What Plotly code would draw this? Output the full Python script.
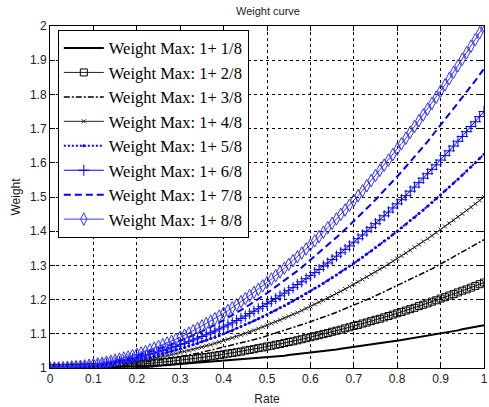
import plotly.graph_objects as go

RATE = [0.00, 0.01, 0.02, 0.03, 0.04, 0.05, 0.06, 0.07, 0.08, 0.09,
        0.10, 0.11, 0.12, 0.13, 0.14, 0.15, 0.16, 0.17, 0.18, 0.19,
        0.20, 0.21, 0.22, 0.23, 0.24, 0.25, 0.26, 0.27, 0.28, 0.29,
        0.30, 0.31, 0.32, 0.33, 0.34, 0.35, 0.36, 0.37, 0.38, 0.39,
        0.40, 0.41, 0.42, 0.43, 0.44, 0.45, 0.46, 0.47, 0.48, 0.49,
        0.50, 0.51, 0.52, 0.53, 0.54, 0.55, 0.56, 0.57, 0.58, 0.59,
        0.60, 0.61, 0.62, 0.63, 0.64, 0.65, 0.66, 0.67, 0.68, 0.69,
        0.70, 0.71, 0.72, 0.73, 0.74, 0.75, 0.76, 0.77, 0.78, 0.79,
        0.80, 0.81, 0.82, 0.83, 0.84, 0.85, 0.86, 0.87, 0.88, 0.89,
        0.90, 0.91, 0.92, 0.93, 0.94, 0.95, 0.96, 0.97, 0.98, 0.99,
        1.00]

W1 = [1.000, 1.000, 1.000, 1.000, 1.000, 1.000, 1.000, 1.001, 1.001, 1.001,
      1.001, 1.002, 1.002, 1.002, 1.002, 1.003, 1.003, 1.004, 1.004, 1.005,
      1.005, 1.006, 1.006, 1.007, 1.007, 1.008, 1.008, 1.009, 1.010, 1.011,
      1.011, 1.012, 1.013, 1.014, 1.014, 1.015, 1.016, 1.017, 1.018, 1.019,
      1.020, 1.021, 1.022, 1.023, 1.024, 1.025, 1.026, 1.028, 1.029, 1.030,
      1.031, 1.033, 1.034, 1.035, 1.036, 1.038, 1.039, 1.041, 1.042, 1.044,
      1.045, 1.047, 1.048, 1.050, 1.051, 1.053, 1.054, 1.056, 1.058, 1.060,
      1.061, 1.063, 1.065, 1.067, 1.068, 1.070, 1.072, 1.074, 1.076, 1.078,
      1.080, 1.082, 1.084, 1.086, 1.088, 1.090, 1.092, 1.095, 1.097, 1.099,
      1.101, 1.104, 1.106, 1.108, 1.110, 1.113, 1.115, 1.118, 1.120, 1.123,
      1.125]

W2 = [1.000, 1.000, 1.000, 1.000, 1.000, 1.001, 1.001, 1.001, 1.002, 1.002,
      1.003, 1.003, 1.004, 1.004, 1.005, 1.006, 1.006, 1.007, 1.008, 1.009,
      1.010, 1.011, 1.012, 1.013, 1.014, 1.016, 1.017, 1.018, 1.020, 1.021,
      1.023, 1.024, 1.026, 1.027, 1.029, 1.031, 1.032, 1.034, 1.036, 1.038,
      1.040, 1.042, 1.044, 1.046, 1.048, 1.051, 1.053, 1.055, 1.058, 1.060,
      1.063, 1.065, 1.068, 1.070, 1.073, 1.076, 1.078, 1.081, 1.084, 1.087,
      1.090, 1.093, 1.096, 1.099, 1.102, 1.106, 1.109, 1.112, 1.116, 1.119,
      1.123, 1.126, 1.130, 1.133, 1.137, 1.141, 1.144, 1.148, 1.152, 1.156,
      1.160, 1.164, 1.168, 1.172, 1.176, 1.181, 1.185, 1.189, 1.194, 1.198,
      1.203, 1.207, 1.212, 1.216, 1.221, 1.226, 1.230, 1.235, 1.240, 1.245,
      1.250]

W3 = [1.000, 1.000, 1.000, 1.000, 1.001, 1.001, 1.001, 1.002, 1.002, 1.003,
      1.004, 1.005, 1.005, 1.006, 1.007, 1.008, 1.010, 1.011, 1.012, 1.014,
      1.015, 1.017, 1.018, 1.020, 1.022, 1.023, 1.025, 1.027, 1.029, 1.032,
      1.034, 1.036, 1.038, 1.041, 1.043, 1.046, 1.049, 1.051, 1.054, 1.057,
      1.060, 1.063, 1.066, 1.069, 1.073, 1.076, 1.079, 1.083, 1.086, 1.090,
      1.094, 1.098, 1.101, 1.105, 1.109, 1.113, 1.118, 1.122, 1.126, 1.131,
      1.135, 1.140, 1.144, 1.149, 1.154, 1.158, 1.163, 1.168, 1.173, 1.179,
      1.184, 1.189, 1.194, 1.200, 1.205, 1.211, 1.217, 1.222, 1.228, 1.234,
      1.240, 1.246, 1.252, 1.258, 1.265, 1.271, 1.277, 1.284, 1.290, 1.297,
      1.304, 1.311, 1.317, 1.324, 1.331, 1.338, 1.346, 1.353, 1.360, 1.368,
      1.375]

W4 = [1.000, 1.000, 1.000, 1.000, 1.001, 1.001, 1.002, 1.002, 1.003, 1.004,
      1.005, 1.006, 1.007, 1.008, 1.010, 1.011, 1.013, 1.014, 1.016, 1.018,
      1.020, 1.022, 1.024, 1.026, 1.029, 1.031, 1.034, 1.036, 1.039, 1.042,
      1.045, 1.048, 1.051, 1.054, 1.058, 1.061, 1.065, 1.068, 1.072, 1.076,
      1.080, 1.084, 1.088, 1.092, 1.097, 1.101, 1.106, 1.110, 1.115, 1.120,
      1.125, 1.130, 1.135, 1.140, 1.146, 1.151, 1.157, 1.162, 1.168, 1.174,
      1.180, 1.186, 1.192, 1.198, 1.205, 1.211, 1.218, 1.224, 1.231, 1.238,
      1.245, 1.252, 1.259, 1.266, 1.274, 1.281, 1.289, 1.296, 1.304, 1.312,
      1.320, 1.328, 1.336, 1.344, 1.353, 1.361, 1.370, 1.378, 1.387, 1.396,
      1.405, 1.414, 1.423, 1.432, 1.442, 1.451, 1.461, 1.470, 1.480, 1.490,
      1.500]

W5 = [1.000, 1.000, 1.000, 1.001, 1.001, 1.002, 1.002, 1.003, 1.004, 1.005,
      1.006, 1.008, 1.009, 1.011, 1.012, 1.014, 1.016, 1.018, 1.020, 1.023,
      1.025, 1.028, 1.030, 1.033, 1.036, 1.039, 1.042, 1.046, 1.049, 1.053,
      1.056, 1.060, 1.064, 1.068, 1.072, 1.077, 1.081, 1.086, 1.090, 1.095,
      1.100, 1.105, 1.110, 1.116, 1.121, 1.127, 1.132, 1.138, 1.144, 1.150,
      1.156, 1.163, 1.169, 1.176, 1.182, 1.189, 1.196, 1.203, 1.210, 1.218,
      1.225, 1.233, 1.240, 1.248, 1.256, 1.264, 1.272, 1.281, 1.289, 1.298,
      1.306, 1.315, 1.324, 1.333, 1.342, 1.352, 1.361, 1.371, 1.380, 1.390,
      1.400, 1.410, 1.420, 1.431, 1.441, 1.452, 1.462, 1.473, 1.484, 1.495,
      1.506, 1.518, 1.529, 1.541, 1.552, 1.564, 1.576, 1.588, 1.600, 1.613,
      1.625]

W6 = [1.000, 1.000, 1.000, 1.001, 1.001, 1.002, 1.003, 1.004, 1.005, 1.006,
      1.008, 1.009, 1.011, 1.013, 1.015, 1.017, 1.019, 1.022, 1.024, 1.027,
      1.030, 1.033, 1.036, 1.040, 1.043, 1.047, 1.051, 1.055, 1.059, 1.063,
      1.068, 1.072, 1.077, 1.082, 1.087, 1.092, 1.097, 1.103, 1.108, 1.114,
      1.120, 1.126, 1.132, 1.139, 1.145, 1.152, 1.159, 1.166, 1.173, 1.180,
      1.188, 1.195, 1.203, 1.211, 1.219, 1.227, 1.235, 1.244, 1.252, 1.261,
      1.270, 1.279, 1.288, 1.298, 1.307, 1.317, 1.327, 1.337, 1.347, 1.357,
      1.368, 1.378, 1.389, 1.400, 1.411, 1.422, 1.433, 1.445, 1.456, 1.468,
      1.480, 1.492, 1.504, 1.517, 1.529, 1.542, 1.555, 1.568, 1.581, 1.594,
      1.608, 1.621, 1.635, 1.649, 1.663, 1.677, 1.691, 1.706, 1.720, 1.735,
      1.750]

W7 = [1.000, 1.000, 1.000, 1.001, 1.001, 1.002, 1.003, 1.004, 1.006, 1.007,
      1.009, 1.011, 1.013, 1.015, 1.017, 1.020, 1.022, 1.025, 1.028, 1.032,
      1.035, 1.039, 1.042, 1.046, 1.050, 1.055, 1.059, 1.064, 1.069, 1.074,
      1.079, 1.084, 1.090, 1.095, 1.101, 1.107, 1.113, 1.120, 1.126, 1.133,
      1.140, 1.147, 1.154, 1.162, 1.169, 1.177, 1.185, 1.193, 1.202, 1.210,
      1.219, 1.228, 1.237, 1.246, 1.255, 1.265, 1.274, 1.284, 1.294, 1.305,
      1.315, 1.326, 1.336, 1.347, 1.358, 1.370, 1.381, 1.393, 1.405, 1.417,
      1.429, 1.441, 1.454, 1.466, 1.479, 1.492, 1.505, 1.519, 1.532, 1.546,
      1.560, 1.574, 1.588, 1.603, 1.617, 1.632, 1.647, 1.662, 1.678, 1.693,
      1.709, 1.725, 1.741, 1.757, 1.773, 1.790, 1.806, 1.823, 1.840, 1.858,
      1.875]

W8 = [1.000, 1.000, 1.000, 1.001, 1.002, 1.003, 1.004, 1.005, 1.006, 1.008,
      1.010, 1.012, 1.014, 1.017, 1.020, 1.023, 1.026, 1.029, 1.032, 1.036,
      1.040, 1.044, 1.048, 1.053, 1.058, 1.063, 1.068, 1.073, 1.078, 1.084,
      1.090, 1.096, 1.102, 1.109, 1.116, 1.123, 1.130, 1.137, 1.144, 1.152,
      1.160, 1.168, 1.176, 1.185, 1.194, 1.203, 1.212, 1.221, 1.230, 1.240,
      1.250, 1.260, 1.270, 1.281, 1.292, 1.303, 1.314, 1.325, 1.336, 1.348,
      1.360, 1.372, 1.384, 1.397, 1.410, 1.423, 1.436, 1.449, 1.462, 1.476,
      1.490, 1.504, 1.518, 1.533, 1.548, 1.563, 1.578, 1.593, 1.608, 1.624,
      1.640, 1.656, 1.672, 1.689, 1.706, 1.723, 1.740, 1.757, 1.774, 1.792,
      1.810, 1.828, 1.846, 1.865, 1.884, 1.903, 1.922, 1.941, 1.960, 1.980,
      2.000]

NAMES = ["Weight Max: 1+ 1/8", "Weight Max: 1+ 2/8", "Weight Max: 1+ 3/8",
         "Weight Max: 1+ 4/8", "Weight Max: 1+ 5/8", "Weight Max: 1+ 6/8",
         "Weight Max: 1+ 7/8", "Weight Max: 1+ 8/8"]
SERIES = [W1, W2, W3, W4, W5, W6, W7, W8]

X_TICKS = [0, 0.1, 0.2, 0.3, 0.4, 0.5, 0.6, 0.7, 0.8, 0.9, 1]
X_LABELS = ["0", "0.1", "0.2", "0.3", "0.4", "0.5", "0.6", "0.7", "0.8", "0.9", "1"]
Y_TICKS = [1, 1.1, 1.2, 1.3, 1.4, 1.5, 1.6, 1.7, 1.8, 1.9, 2]
Y_LABELS = ["1", "1.1", "1.2", "1.3", "1.4", "1.5", "1.6", "1.7", "1.8", "1.9", "2"]

STYLES = [
    dict(mode="lines", line=dict(color="black", width=2)),
    dict(mode="lines+markers", line=dict(color="#222222", width=1),
         marker=dict(symbol="square-open", size=7, color="black", line=dict(width=1))),
    dict(mode="lines", line=dict(color="black", width=1.5, dash="6px,2px,2px,2px")),
    dict(mode="lines+markers", line=dict(color="#222222", width=1),
         marker=dict(symbol="x-thin-open", size=4, color="#222222", line=dict(width=1))),
    dict(mode="lines+markers", line=dict(color="#0000ff", width=2, dash="2px,2px"),
         marker=dict(symbol="circle", size=3, color="#0000ff")),
    dict(mode="lines+markers", line=dict(color="#0000ff", width=1),
         marker=dict(symbol="cross-thin-open", size=8, color="#0000ff", line=dict(width=1))),
    dict(mode="lines", line=dict(color="#0000ff", width=2, dash="7px,4px")),
    dict(mode="lines+markers", line=dict(color="#3333ff", width=1),
         marker=dict(symbol="diamond-tall-open", size=9, color="#3333ff", line=dict(width=1))),
]

fig = go.Figure()
for i, (name, ys, st) in enumerate(zip(NAMES, SERIES, STYLES)):
    n = min(len(RATE), len(ys))
    fig.add_trace(go.Scatter(x=RATE[:n], y=ys[:n], name=name, legendgroup="g%d" % i, **st))

axis_common = dict(
    showline=True, linecolor="black", linewidth=1, mirror="ticks",
    ticks="inside", ticklen=5, tickcolor="black",
    showgrid=True, gridcolor="black", gridwidth=1, griddash="3px,3px",
    zeroline=False, ticklabeloverflow="allow",
    tickfont=dict(family="Liberation Sans, Arial", size=12, color="#222222"),
    title_font=dict(family="Liberation Sans, Arial", size=12, color="#222222"),
)

fig.update_layout(
    width=489, height=407,
    margin=dict(l=50, r=1, t=26, b=39),
    paper_bgcolor="white", plot_bgcolor="white",
    title=dict(text="Weight curve", x=0.548, xanchor="center", y=0.972, yanchor="middle",
               font=dict(family="Liberation Sans, Arial", size=11, color="#222222")),
    xaxis=dict(range=[0, 1], tickvals=X_TICKS, ticktext=X_LABELS,
               title=dict(text="Rate", standoff=9), **axis_common),
    yaxis=dict(range=[1, 2], tickvals=Y_TICKS, ticktext=Y_LABELS,
               title=dict(text="Weight", standoff=6), **axis_common),
    legend=dict(x=0.018, y=0.989, xanchor="left", yanchor="top",
                bgcolor="white", bordercolor="black", borderwidth=1,
                font=dict(family="Liberation Serif, Times New Roman", size=16.5, color="black"),
                itemwidth=40, tracegroupgap=0, traceorder="normal"),
    showlegend=True,
)

fig.write_html(
    "out.html",
    config={"displayModeBar": False},
    post_script="document.body.style.margin='0';document.body.style.overflow='hidden';",
)
